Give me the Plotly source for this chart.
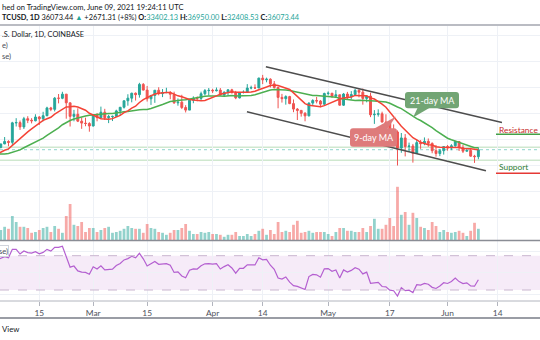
import pandas as pd
import plotly.graph_objects as go

W, H = 540, 340
FONT = "Lato, sans-serif"

# ---- BTC/USD daily candles (Coinbase), 2021-01-01 .. 2021-06-09 ----
opens = [
    # Jan
    28990, 29410, 32200, 33000, 31990, 34000, 36800, 39400, 40600, 40200,
    38200, 35500, 33900, 37400, 39150, 36800, 36000, 35800, 36600, 35900,
    35500, 30850, 33000, 32100, 32300, 32300, 32500, 30400, 33450, 34300, 34300,
    # Feb
    33100, 33500, 35500, 37650, 36950, 38300, 39250, 38900, 46400, 46500,
    44850, 48000, 47400, 47200, 48650, 47950, 49150, 52150, 51600, 55900,
    55850, 57450, 54100, 48900, 49700, 47050, 46300, 46150,
    # Mar
    45200, 49600, 48400, 50500, 48400, 48800, 48900, 51000, 52400, 54900,
    55900, 57800, 57250, 61200, 59000, 55650, 56950, 58950, 57650, 58050,
    58100, 57400, 54100, 54350, 52300, 51300, 55100, 55850, 55800, 57600, 58800,
    # Apr
    58900, 58750, 59000, 57100, 58200, 59100, 58000, 56000, 58100, 58150,
    59800, 59900, 59800, 63600, 62950, 63200, 61400, 60000, 56200, 55700,
    56500, 53800, 51700, 51200, 50100, 49100, 54000, 55000, 54800, 53600,
    # May
    57700, 57800, 56600, 57200, 53200, 57500, 56400, 57300, 58900, 58200,
    55800, 56700, 49500, 49700, 49900, 46700, 46400, 43500, 42900, 36700,
    40600, 37300, 37500, 34700, 38800, 38400, 39300, 38500, 35700, 34600, 35700,
    # Jun
    37300, 36700, 37600, 39200, 36900, 35500, 35800, 33600, 33402.13,
]
highs = [
    29680, 33300, 34800, 33600, 34500, 36900, 40400, 41950, 41400, 41400,
    38300, 36600, 37800, 40100, 39700, 37900, 36800, 37400, 37850, 36400,
    35600, 33800, 33600, 32900, 34900, 32900, 32550, 33800, 38600, 34900, 34300,
    34700, 35900, 37700, 38700, 38300, 40950, 39700, 46800, 48200, 47300,
    48700, 48950, 48200, 49700, 49000, 50650, 52600, 52550, 56350, 57500,
    58350, 57500, 54200, 51400, 52000, 48400, 48400, 46650,
    49800, 50200, 52650, 51800, 49500, 49200, 51450, 52400, 54900, 57400,
    58000, 58100, 61800, 61700, 60600, 56950, 58950, 60100, 59400, 59900,
    58600, 58400, 55800, 57200, 53200, 55100, 56600, 56550, 58400, 59400, 59800,
    59500, 60000, 59800, 58500, 59300, 59500, 58700, 58200, 58900, 61300,
    60700, 61200, 63800, 64850, 63800, 63550, 62500, 60400, 57550, 57000,
    56800, 55400, 52100, 51200, 50500, 54300, 55500, 56400, 55200, 58000,
    58500, 57900, 59000, 57200, 57900, 58300, 58600, 59500, 59300, 59600,
    56900, 58000, 51300, 51600, 50700, 49700, 46600, 45800, 43500, 42500,
    42100, 38800, 38300, 39900, 39800, 40800, 40400, 38900, 37900, 36400, 37500,
    37900, 38200, 39500, 39300, 37900, 36500, 36800, 34100, 36950.00,
]
lows = [
    28700, 29000, 32000, 28000, 29900, 33300, 36300, 36500, 38700, 35000,
    30400, 32500, 32400, 36700, 34400, 35400, 33900, 34800, 35900, 33400,
    30100, 28800, 31400, 30900, 32100, 30800, 29200, 29900, 31950, 32900, 32300,
    32300, 33450, 35400, 36200, 36600, 38200, 37400, 37950, 45000, 43700,
    44050, 46300, 46200, 47000, 45600, 47000, 48950, 50900, 50800, 53900,
    55500, 48000, 45000, 47000, 46700, 44100, 45100, 43000,
    45000, 47000, 48100, 47500, 46300, 47100, 48900, 49300, 51900, 53000,
    54300, 55000, 56100, 58900, 54600, 53300, 54100, 57000, 56300, 57800,
    55500, 53700, 53000, 51700, 50400, 51300, 53950, 54700, 54900, 57000, 56900,
    57900, 58500, 56900, 56500, 56800, 57700, 55500, 55800, 57700, 57900,
    59300, 59400, 59800, 61300, 62000, 60000, 59600, 52000, 54200, 53400,
    53600, 50500, 47500, 48800, 47000, 48900, 53300, 53900, 52400, 53100,
    57000, 56000, 56500, 53000, 52900, 55200, 55400, 56900, 56200, 53400,
    54300, 48600, 46000, 48800, 46600, 43800, 42000, 42300, 30000, 34900,
    33500, 35300, 31100, 34400, 36400, 37800, 37200, 34700, 33400, 33600, 34200,
    35700, 35900, 37200, 35600, 34800, 35300, 33400, 31000, 32408.53,
]
closes = [
    29410, 32200, 33000, 31990, 34000, 36800, 39400, 40600, 40200, 38200,
    35500, 33900, 37400, 39150, 36800, 36000, 35800, 36600, 35900, 35500,
    30850, 33000, 32100, 32300, 32300, 32500, 30400, 33450, 34300, 34300, 33100,
    33500, 35500, 37650, 36950, 38300, 39250, 38900, 46400, 46500, 44850,
    48000, 47400, 47200, 48650, 47950, 49150, 52150, 51600, 55900, 55850,
    57450, 54100, 48900, 49700, 47050, 46300, 46150, 45200,
    49600, 48400, 50500, 48400, 48800, 48900, 51000, 52400, 54900, 55900,
    57800, 57250, 61200, 59000, 55650, 56950, 58950, 57650, 58050, 58100,
    57400, 54100, 54350, 52300, 51300, 55100, 55850, 55800, 57600, 58800, 58900,
    58750, 59000, 57100, 58200, 59100, 58000, 56000, 58100, 58150, 59800,
    59900, 59800, 63600, 62950, 63200, 61400, 60000, 56200, 55700, 56500,
    53800, 51700, 51200, 50100, 49100, 54000, 55000, 54800, 53600, 57700,
    57800, 56600, 57200, 53200, 57500, 56400, 57300, 58900, 58200, 55800,
    56700, 49500, 49700, 49900, 46700, 46400, 43500, 42900, 36700, 40600,
    37300, 37500, 34700, 38800, 38400, 39300, 38500, 35700, 34600, 35700, 37300,
    36700, 37600, 39200, 36900, 35500, 35800, 33600, 33402.13, 36073.44,
]
dates = pd.date_range("2021-01-01", periods=len(closes), freq="D")

# Volume (thousand BTC), 2021-02-05 .. 2021-06-09
volume_feb_apr = [
    25, 33, 28, 60, 45, 33, 33, 30, 18, 20, 25, 30, 33, 20, 35, 28, 18, 60, 90, 38,
    35, 45, 20, 30, 30, 20, 25, 30, 33, 18, 20, 23, 28, 35, 30, 28, 28, 18, 40, 30,
    28, 20, 18, 13, 18, 25, 25, 30, 40, 23, 15, 15, 20, 18, 20, 15, 15, 13, 8, 13,
    13, 20, 10, 10, 15, 10, 15, 23, 28, 13, 25,
]
volume_apr_jun = [
    15, 45, 20, 23, 20, 38, 48, 18, 20, 23, 18, 20, 20, 20, 15, 10, 20, 30, 30, 23,
    23, 20, 20, 30, 20, 35, 53, 28, 28, 38, 55, 35, 133, 63, 70, 38, 68, 55, 33, 30,
    25, 45, 35, 20, 25, 20, 18, 20, 23, 18, 10, 23, 43, 28,
]
volume_dates = pd.date_range("2021-02-05", "2021-06-09", freq="D")
volumes = volume_feb_apr + volume_apr_jun

# Time axis labels
tick_dates = ["2021-02-15", "2021-03-01", "2021-03-15", "2021-04-01", "2021-04-14",
              "2021-05-01", "2021-05-17", "2021-06-01", "2021-06-14"]
tick_text = ["15", "Mar", "15", "Apr", "14", "May", "17", "Jun", "14"]

# Descending channel drawn on the price pane (date, price)
channel_upper_x = ["2021-04-14 20:00", "2021-06-15 03:00"]
channel_upper_y = [68000, 46500]
channel_lower_x = ["2021-04-09 22:00", "2021-06-10 23:00"]
channel_lower_y = [50700, 28000]
# Horizontal price levels
level_prices = [37000, 32000]

# ---- indicators ----
df = pd.DataFrame({"open": opens, "high": highs, "low": lows, "close": closes}, index=dates)
ma9 = df["close"].rolling(9).mean()
ma21 = df["close"].rolling(21).mean()
delta = df["close"].diff()
gain = delta.clip(lower=0).ewm(alpha=1 / 14, adjust=False).mean()
loss = (-delta).clip(lower=0).ewm(alpha=1 / 14, adjust=False).mean()
rsi = 100 - 100 / (1 + gain / loss)

UP, DOWN = "#26a69a", "#ef5350"
rising = (df["close"] >= df["open"]).reindex(volume_dates)
vol_colors = ["rgba(38,166,154,0.5)" if r else "rgba(239,83,80,0.5)" for r in rising]

# ---- figure ----
fig = go.Figure()
fig.add_trace(go.Bar(x=volume_dates, y=volumes, marker=dict(color=vol_colors, line_width=0),
                     width=0.72 * 86400000, xaxis="x", yaxis="y2", hoverinfo="skip"))
fig.add_trace(go.Candlestick(
    x=dates, open=df["open"], high=df["high"], low=df["low"], close=df["close"],
    increasing=dict(line=dict(color=UP, width=1), fillcolor=UP),
    decreasing=dict(line=dict(color=DOWN, width=1), fillcolor=DOWN),
    whiskerwidth=0, xaxis="x", yaxis="y"))
fig.add_trace(go.Scatter(x=dates, y=ma21, mode="lines", line=dict(color="#4caf50", width=1.5),
                         xaxis="x", yaxis="y"))
fig.add_trace(go.Scatter(x=dates, y=ma9, mode="lines", line=dict(color="#f44336", width=1.5),
                         xaxis="x", yaxis="y"))
fig.add_trace(go.Scatter(x=dates, y=rsi, mode="lines", line=dict(color="#b45fd0", width=1.2),
                         xaxis="x2", yaxis="y3"))


def fx(px):
    return px / W


def fy(py):
    return 1 - py / H


def poly(points):
    return "M " + " L ".join(f"{fx(x):.5f},{fy(y):.5f}" for x, y in points) + " Z"


def rounded(x0, y0, x1, y1, r):
    p = lambda x, y: f"{fx(x):.5f},{fy(y):.5f}"
    return (f"M {p(x0 + r, y0)} L {p(x1 - r, y0)} Q {p(x1, y0)} {p(x1, y0 + r)} "
            f"L {p(x1, y1 - r)} Q {p(x1, y1)} {p(x1 - r, y1)} L {p(x0 + r, y1)} "
            f"Q {p(x0, y1)} {p(x0, y1 - r)} L {p(x0, y0 + r)} Q {p(x0, y0)} {p(x0 + r, y0)} Z")


GRID = "#eef1f6"
shapes = []
# RSI band 30-70
shapes.append(dict(type="rect", xref="x2 domain", yref="y3", x0=0, x1=1, y0=30, y1=70,
                   fillcolor="rgba(186,104,200,0.13)", line_width=0, layer="below"))
for lvl in (70, 30):
    shapes.append(dict(type="line", xref="x2 domain", yref="y3", x0=0, x1=1, y0=lvl, y1=lvl,
                       line=dict(color="#c9b6cf", width=1, dash="dash")))
# horizontal price levels and last-price line
for lvl in level_prices:
    shapes.append(dict(type="line", xref="x domain", yref="y", x0=0, x1=1, y0=lvl, y1=lvl,
                       line=dict(color="#cfe8cf", width=1.5), layer="below"))
shapes.append(dict(type="line", xref="x domain", yref="y", x0=0, x1=1, y0=closes[-1], y1=closes[-1],
                   line=dict(color="#8fd3cc", width=1, dash="dot"), layer="below"))
# channel
for xs, ys in ((channel_upper_x, channel_upper_y), (channel_lower_x, channel_lower_y)):
    shapes.append(dict(type="line", xref="x", yref="y", x0=xs[0], x1=xs[1], y0=ys[0], y1=ys[1],
                       line=dict(color="#4d4d4d", width=1.5)))
# pane borders
for y, col, wd in ((25, "#a3a6af", 1.5), (240.6, "#8a8d95", 1.5), (301, "#b2b5be", 1), (318, "#9a9da5", 2)):
    shapes.append(dict(type="line", xref="paper", yref="paper", x0=0, x1=1, y0=fy(y), y1=fy(y),
                       line=dict(color=col, width=wd)))
# resistance / support underlines
shapes.append(dict(type="line", xref="paper", yref="paper", x0=fx(496), x1=1, y0=fy(134.3), y1=fy(134.3),
                   line=dict(color="#43a047", width=1.5)))
shapes.append(dict(type="line", xref="paper", yref="paper", x0=fx(496), x1=1, y0=fy(173.3), y1=fy(173.3),
                   line=dict(color="#e53935", width=1.5)))
# MA callouts
GREEN_BOX, RED_BOX = "#72a574", "#de7b7b"
shapes.append(dict(type="path", xref="paper", yref="paper", path=rounded(405, 92, 459, 108.3, 3),
                   fillcolor=GREEN_BOX, line_width=0))
shapes.append(dict(type="path", xref="paper", yref="paper", path=poly([(418, 107), (431, 107), (413, 117.5)]),
                   fillcolor=GREEN_BOX, line_width=0))
shapes.append(dict(type="path", xref="paper", yref="paper", path=rounded(350, 128.3, 397, 146.7, 3),
                   fillcolor=RED_BOX, line_width=0))
shapes.append(dict(type="path", xref="paper", yref="paper", path=poly([(373, 129.3), (387, 129.3), (396, 116.5)]),
                   fillcolor=RED_BOX, line_width=0))


def label(text, x, y, xanchor="left", color="#131722", size=8, **kw):
    return dict(text=text, xref="paper", yref="paper", x=fx(x), y=fy(y), xanchor=xanchor,
                yanchor="middle", showarrow=False, borderpad=0,
                font=dict(family=FONT, size=size, color=color), **kw)


chg = closes[-1] - closes[-2]
pct = chg / closes[-2] * 100
teal = "#26a69a"
header2 = (f"<b>TCUSD, 1D</b> {closes[-1]:.2f} <span style='color:{teal}'>▲</span> "
           f"+{chg:.2f} (+{pct:.0f}%) "
           f"<b>O:</b><span style='color:{teal}'>{opens[-1]:.2f}</span> "
           f"<b>H:</b><span style='color:{teal}'>{highs[-1]:.2f}</span> "
           f"<b>L:</b><span style='color:{teal}'>{lows[-1]:.2f}</span> "
           f"<b>C:</b><span style='color:{teal}'>{closes[-1]:.2f}</span>")

annotations = [
    label("hed on TradingView.com, June 09, 2021 19:24:11 UTC", 0.5, 6.7, size=7.6),
    label(header2, 0.5, 17.3, size=7.4),
    label(".S. Dollar, 1D, COINBASE", 0.5, 34.7, size=7.4),
    label("e)", 0.5, 45.5, color="#4a4d57", size=7.6),
    label("se)", 0.5, 56.5, color="#4a4d57", size=7.6),
    label("se)", -2, 250.8, color="#4a4d57", size=7.6, bgcolor="white",
          bordercolor="#d1d4dc", borderwidth=1),
    label("21-day MA", 432, 100.2, "center", color="white", size=9),
    label("9-day MA", 373.5, 137.5, "center", color="white", size=9),
    label("Resistance", 497.5, 129.5, "left", color="#c62828", size=8.4),
    label("Support", 497.5, 167, "left", color="#2e7d32", size=8.4),
    label("View", 0.5, 329, color="#131722", size=7.8),
]

x_range = ["2021-02-04 19:10", "2021-06-25 00:00"]
fig.update_layout(
    width=W, height=H, margin=dict(l=0, r=0, t=0, b=0), autosize=False,
    paper_bgcolor="white", plot_bgcolor="white", showlegend=False,
    shapes=shapes, annotations=annotations,
    xaxis=dict(domain=[0, 1], anchor="y", range=x_range, type="date", tickvals=tick_dates,
               showticklabels=False, showgrid=True, gridcolor=GRID, zeroline=False,
               rangeslider=dict(visible=False), ticks=""),
    xaxis2=dict(domain=[0, 1], anchor="y3", matches="x", range=x_range, type="date",
                tickvals=tick_dates, ticktext=tick_text, showgrid=True, gridcolor=GRID,
                ticks="outside", ticklen=4, tickcolor="#b2b5be",
                tickfont=dict(family=FONT, size=8.4, color="#50535e"), zeroline=False),
    yaxis=dict(domain=[fy(240), fy(26)], range=[1348, 83652], tick0=0, dtick=10000,
               showticklabels=False, showgrid=True, gridcolor=GRID, zeroline=False),
    yaxis2=dict(domain=[fy(240), fy(26)], overlaying="y", range=[0, 535], visible=False),
    yaxis3=dict(domain=[fy(301), fy(241)], range=[17.2, 87.1], tick0=0, dtick=25,
                showticklabels=False, showgrid=True, gridcolor=GRID, zeroline=False),
)

fig.write_html("out.html")
